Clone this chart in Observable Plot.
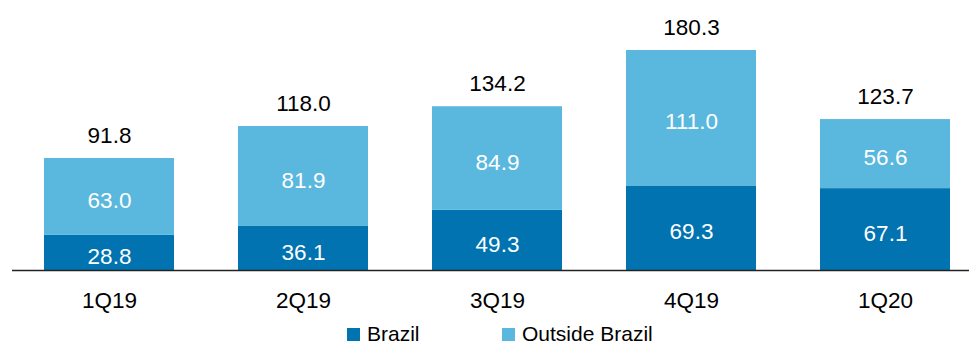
<!DOCTYPE html>
<html>
<head>
<meta charset="utf-8">
<script src="https://cdn.jsdelivr.net/npm/d3@7"></script>
<script src="https://cdn.jsdelivr.net/npm/@observablehq/plot@0.6"></script>
<style>
  html, body { margin: 0; padding: 0; background: #fff; overflow: hidden; }
  #wrap { position: relative; width: 969px; height: 347px; font-family: "Liberation Sans", Arial, sans-serif; }
  #legend { position: absolute; left: 0; top: 323px; height: 21px; width: 969px; font-size: 21px; line-height: 21px; color: #000; }
  .item { position: absolute; top: 0; white-space: nowrap; }
  .sw { position: absolute; top: 5px; width: 13px; height: 13px; }
  .lbl { position: absolute; left: 20px; top: 0; }
</style>
</head>
<body>
<div id="wrap"><div id="chart"></div><div id="legend"></div></div>
<script>
const quarters = ["1Q19", "2Q19", "3Q19", "4Q19", "1Q20"];
const brazil = [28.8, 36.1, 49.3, 69.3, 67.1];
const outsideBrazil = [63.0, 81.9, 84.9, 111.0, 56.6];
const totals = [91.8, 118.0, 134.2, 180.3, 123.7];
const seriesNames = ["Brazil", "Outside Brazil"];
const colors = ["#0073B0", "#5AB7DD"];

const rows = [];
quarters.forEach((q, i) => {
  rows.push({quarter: q, series: seriesNames[0], value: brazil[i]});
  rows.push({quarter: q, series: seriesNames[1], value: outsideBrazil[i]});
});
const totalRows = quarters.map((q, i) => ({quarter: q, total: totals[i]}));

const chart = Plot.plot({
  width: 969,
  height: 322,
  marginLeft: 12,
  marginRight: 0,
  marginTop: 50,
  marginBottom: 52,
  style: {fontFamily: "Liberation Sans, Arial, sans-serif", fontSize: "22.5px", background: "transparent"},
  x: {domain: quarters, range: [12, 982], paddingInner: 0.33, paddingOuter: 0.165, label: null},
  y: {domain: [0, 180.3], range: [270, 50], axis: null},
  color: {domain: seriesNames, range: colors},
  marks: [
    Plot.barY(rows, {x: "quarter", y: "value", fill: "series"}),
    Plot.text(rows, Plot.stackY({x: "quarter", y: "value", z: "series", text: d => d.value.toFixed(1), fill: "white", fontSize: 22.5, dy: 4})),
    Plot.text(totalRows, {x: "quarter", y: "total", text: d => d.total.toFixed(1), fill: "black", fontSize: 22.5, dy: -23}),
    Plot.ruleY([0], {stroke: "#222", strokeWidth: 1.5}),
    Plot.axisX({tickSize: 0, tickPadding: 22, fontSize: 22.5, fill: "black", label: null})
  ]
});
document.getElementById("chart").appendChild(chart);

const legend = document.getElementById("legend");
const legendX = [347, 502];
seriesNames.forEach((name, i) => {
  const item = document.createElement("div");
  item.className = "item";
  item.style.left = legendX[i] + "px";
  item.innerHTML = `<span class="sw" style="background:${colors[i]}"></span><span class="lbl">${name}</span>`;
  legend.appendChild(item);
});
</script>
</body>
</html>
